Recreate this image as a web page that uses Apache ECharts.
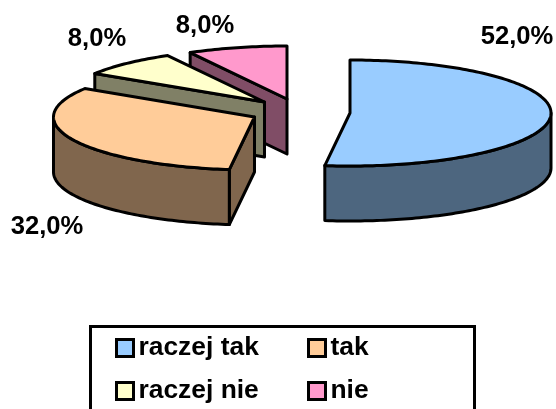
<!DOCTYPE html>
<html>
<head>
<meta charset="utf-8">
<style>html,body{margin:0;padding:0;background:#fff;overflow:hidden}#c{width:556px;height:409px}</style>
<script src="https://cdn.jsdelivr.net/npm/echarts@6/dist/echarts.min.js"></script>
</head>
<body>
<div id="c"></div>
<script>
const categories = ['raczej tak', 'tak', 'raczej nie', 'nie'];
const values = [52, 32, 8, 8];
const topColors = ['#99CCFF', '#FFCC99', '#FFFFCC', '#FF99CC'];
const sideColors = ['#4D667F', '#80664D', '#808066', '#804D66'];

const FONT = '"Liberation Sans", Arial, sans-serif';
const RX = 201, RY = 53, DEPTH = 55;
const centers = [[350, 113], [254.5, 117], [264.5, 102], [287, 99]];
const labelAt = [[517, 37], [47, 227], [97, 39], [205, 26]];

const total = values.reduce((a, b) => a + b, 0);
const starts = [];
values.reduce((acc, v, i) => { starts[i] = acc; return acc + v; }, 0);
const toAngle = v => v / total * Math.PI * 2;

function slicePoint(c, a) { return [c[0] + RX * Math.sin(a), c[1] - RY * Math.cos(a)]; }
function arc(c, a0, a1) {
  const n = Math.max(2, Math.ceil(Math.abs(a1 - a0) / 0.02));
  const pts = [];
  for (let i = 0; i <= n; i++) pts.push(slicePoint(c, a0 + (a1 - a0) * i / n));
  return pts;
}
const down = p => [p[0], p[1] + DEPTH];

function renderSlice(i) {
  return function (params, api) {
    const v = api.value(0);
    const a0 = toAngle(starts[i]), a1 = a0 + toAngle(v);
    const c = centers[i];
    const line = { stroke: '#000', lineWidth: 3, lineJoin: 'round' };
    const kids = [];
    const face = (pts, fill) => kids.push({ type: 'polygon', shape: { points: pts }, style: Object.assign({ fill }, line) });
    if (Math.sin(a0) < -1e-6) {
      const p = slicePoint(c, a0);
      face([c, p, down(p), down(c)], sideColors[i]);
    }
    if (Math.sin(a1) > 1e-6) {
      const p = slicePoint(c, a1);
      face([c, p, down(p), down(c)], sideColors[i]);
    }
    const r0 = Math.max(a0, Math.PI / 2), r1 = Math.min(a1, Math.PI * 1.5);
    if (r1 > r0) {
      const rim = arc(c, r0, r1);
      face(rim.concat(rim.slice().reverse().map(down)), sideColors[i]);
    }
    face([c].concat(arc(c, a0, a1)), topColors[i]);
    kids.push({
      type: 'text',
      style: {
        text: v.toFixed(1).replace('.', ',') + '%',
        x: labelAt[i][0], y: labelAt[i][1],
        fill: '#000', font: 'bold 25.6px ' + FONT,
        textAlign: 'center', textVerticalAlign: 'middle'
      }
    });
    return { type: 'group', children: kids };
  };
}

const drawOrder = [3, 2, 1, 0];
const series = drawOrder.map(i => ({
  type: 'custom',
  name: categories[i],
  coordinateSystem: 'none',
  renderItem: renderSlice(i),
  itemStyle: { color: topColors[i] },
  data: [[values[i]]],
  silent: true,
  animation: false
}));

const legendItem = i => ({
  name: categories[i], icon: 'rect',
  itemStyle: { color: topColors[i], borderColor: '#000', borderWidth: 3 }
});
const legendBase = {
  orient: 'vertical', top: 335, height: 74, padding: 0,
  itemWidth: 17, itemHeight: 17, itemGap: 17,
  selectedMode: false,
  textStyle: { color: '#000', fontFamily: FONT, fontWeight: 'bold', fontSize: 26.4, lineHeight: 26 }
};

const chart = echarts.init(document.getElementById('c'), null, { renderer: 'canvas' });
chart.setOption({
  animation: false,
  backgroundColor: '#fff',
  legend: [
    Object.assign({}, legendBase, { left: 115, data: [legendItem(0), legendItem(2)] }),
    Object.assign({}, legendBase, { left: 307, data: [legendItem(1), legendItem(3)] })
  ],
  graphic: [{
    type: 'rect', left: 89, top: 325, z: -1,
    shape: { width: 384, height: 110 },
    style: { fill: '#fff', stroke: '#000', lineWidth: 3 }
  }],
  series
});
</script>
</body>
</html>
